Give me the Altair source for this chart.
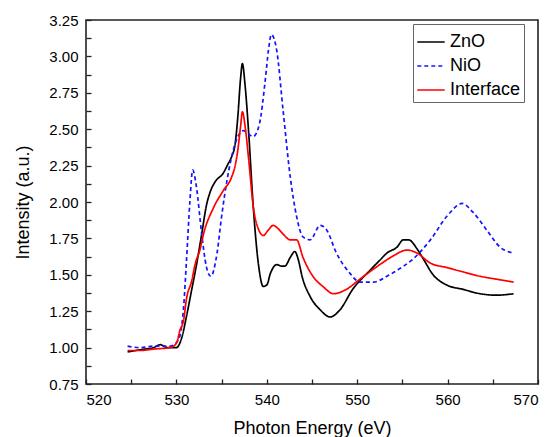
import altair as alt
import pandas as pd

series_names = ["ZnO", "NiO", "Interface"]

zno_x = [524.6, 525.5, 526.5, 527.5, 528.2, 529.0, 530.0, 530.6, 531.1, 531.7, 532.2, 532.8, 533.3, 533.8,
         534.3, 535.2, 535.7, 536.1, 536.5, 536.8, 537.1, 537.3, 537.6, 538.0, 538.5, 539.1, 539.6, 540.0,
         540.4, 541.1, 541.6, 542.0, 542.6, 543.1, 543.5, 543.9, 544.8, 545.9, 547.0, 548.1, 549.5, 551.4,
         552.5, 553.3, 554.4, 555.1, 555.7, 556.6, 557.3, 558.4, 559.9, 561.7, 563.6, 565.4, 567.3]
zno_y = [0.97, 0.98, 0.99, 1.00, 1.02, 1.00, 1.00, 1.07, 1.21, 1.40, 1.56, 1.78, 1.97, 2.08,
         2.14, 2.20, 2.26, 2.31, 2.40, 2.59, 2.85, 2.95, 2.80, 2.47, 1.97, 1.56, 1.42, 1.43,
         1.51, 1.57, 1.56, 1.56, 1.62, 1.66, 1.60, 1.49, 1.35, 1.26, 1.21, 1.26, 1.40, 1.53,
         1.60, 1.65, 1.69, 1.74, 1.74, 1.68, 1.61, 1.50, 1.43, 1.40, 1.37, 1.36, 1.37]

nio_x = [524.6, 526.0, 527.5, 529.3, 530.2, 530.8, 531.1, 531.5, 531.8, 532.2, 532.8, 533.3, 533.8, 534.5,
         535.0, 535.6, 536.5, 537.4, 538.5, 539.2, 539.8, 540.2, 540.5, 541.1, 541.8, 542.6, 543.3, 544.0,
         544.8, 545.9, 546.6, 547.7, 549.2, 550.3, 551.8, 553.3, 554.4, 556.2, 558.1, 559.9, 561.6, 562.8,
         564.3, 565.8, 567.3]
nio_y = [1.01, 1.00, 1.01, 1.01, 1.05, 1.28, 1.58, 2.01, 2.22, 2.11, 1.78, 1.56, 1.49, 1.65,
         1.90, 2.15, 2.40, 2.49, 2.45, 2.54, 2.82, 3.05, 3.15, 3.04, 2.63, 2.17, 1.90, 1.76,
         1.74, 1.84, 1.81, 1.65, 1.51, 1.45, 1.45, 1.49, 1.53, 1.61, 1.74, 1.90, 1.99, 1.93,
         1.81, 1.69, 1.65]

int_x = [524.6, 526.0, 527.5, 529.3, 530.0, 530.4, 530.8, 531.1, 531.7, 532.1, 532.6, 533.0, 534.1, 535.2,
         536.1, 536.5, 536.8, 537.1, 537.3, 537.6, 538.0, 538.5, 539.1, 539.6, 540.2, 540.7, 541.2, 541.8,
         542.6, 543.3, 544.0, 545.1, 546.2, 547.4, 548.8, 550.3, 552.5, 554.0, 555.5, 556.6, 558.1, 559.9,
         561.7, 563.6, 565.4, 567.3]
int_y = [0.98, 0.98, 0.99, 1.00, 1.03, 1.12, 1.19, 1.33, 1.46, 1.58, 1.67, 1.78, 1.96, 2.08,
         2.17, 2.25, 2.36, 2.52, 2.62, 2.52, 2.29, 1.97, 1.81, 1.77, 1.81, 1.84, 1.82, 1.78,
         1.74, 1.74, 1.62, 1.49, 1.42, 1.37, 1.40, 1.47, 1.57, 1.63, 1.67, 1.65, 1.58, 1.55,
         1.52, 1.49, 1.47, 1.45]

x_ticks = [520, 525, 530, 535, 540, 545, 550, 555, 560, 565, 570]
y_ticks = [0.75 + 0.125 * i for i in range(21)]

frames = []
for name, xs, ys in [("ZnO", zno_x, zno_y), ("NiO", nio_x, nio_y), ("Interface", int_x, int_y)]:
    frames.append(pd.DataFrame({"energy": xs, "intensity": ys, "series": name}))
df = pd.concat(frames, ignore_index=True)

FONT = "Liberation Sans"

legend_kw = dict(title=None, orient="none", legendX=327, legendY=4,
                 symbolType="stroke", symbolSize=750, symbolStrokeWidth=1.7,
                 labelFontSize=18, labelFont=FONT, labelColor="#000",
                 strokeColor="#666", fillColor="white", padding=3,
                 rowPadding=0, labelOffset=4)

chart = alt.Chart(df).mark_line(strokeWidth=1.7, interpolate="monotone").encode(
    x=alt.X("energy:Q",
            scale=alt.Scale(domain=[520, 570], nice=False, zero=False),
            axis=alt.Axis(title="Photon Energy (eV)", values=x_ticks,
                          labelExpr="datum.value % 10 == 0 ? datum.label : ''",
                          format="d", grid=False, domain=False, zindex=2,
                          tickSize={"expr": "-5"}, labelPadding=13, titlePadding=12)),
    y=alt.Y("intensity:Q",
            scale=alt.Scale(domain=[0.75, 3.25], nice=False, zero=False),
            axis=alt.Axis(title="Intensity (a.u.)", values=y_ticks,
                          labelExpr="abs(datum.value * 4 - round(datum.value * 4)) < 0.001 ? format(datum.value, '.2f') : ''",
                          grid=False, domain=False, zindex=2,
                          tickSize={"expr": "-5"}, labelPadding=13, titlePadding=16)),
    color=alt.Color("series:N",
                    scale=alt.Scale(domain=series_names, range=["#000000", "#1414ff", "#ff0000"]),
                    legend=alt.Legend(**legend_kw)),
    strokeDash=alt.StrokeDash("series:N",
                              scale=alt.Scale(domain=series_names, range=[[1, 0], [4, 3], [1, 0]]),
                              legend=alt.Legend(**legend_kw)),
    order=alt.Order("energy:Q"),
).properties(
    width=452,
    height=364,
    autosize=alt.AutoSizeParams(type="none"),
    padding={"left": 78, "top": 12, "right": 5, "bottom": 53},
).configure_view(
    stroke="#222", strokeWidth=1.6
).configure_axis(
    labelFont=FONT, labelFontSize=15, labelColor="#000",
    titleFont=FONT, titleFontSize=18, titleFontWeight="normal", titleColor="#000",
    tickColor="#222", tickWidth=1.3, ticks=True
)

chart.save("out.html", embed_options={"renderer": "svg", "actions": False})
